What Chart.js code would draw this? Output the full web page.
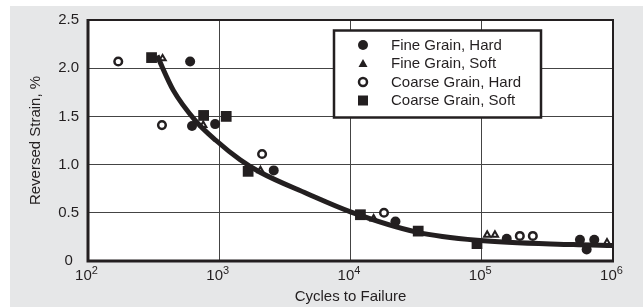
<!DOCTYPE html>
<html>
<head>
<meta charset="utf-8">
<script src="https://cdn.jsdelivr.net/npm/chart.js@4.4.1/dist/chart.umd.min.js"></script>
<style>
  body { margin: 0; background: #fff; }
  #wrap { width: 643px; height: 307px; }
</style>
</head>
<body>
<div id="wrap"><canvas id="strainChart" width="643" height="307"></canvas></div>
<script>
// values
const seriesNames = ['Fine Grain, Hard', 'Fine Grain, Soft', 'Coarse Grain, Hard', 'Coarse Grain, Soft'];

const fineHardX = [600, 620, 930, 2600, 22000, 155000, 560000, 630000, 720000];
const fineHardY = [2.07, 1.40, 1.42, 0.94, 0.41, 0.23, 0.22, 0.12, 0.22];

const fineSoftX = [370, 755, 2060, 15000, 110000, 126000, 900000];
const fineSoftY = [2.10, 1.41, 0.94, 0.44, 0.27, 0.27, 0.19];

const coarseHardX = [170, 366, 2120, 18000, 195000, 245000];
const coarseHardY = [2.07, 1.41, 1.11, 0.50, 0.26, 0.26];

const coarseSoftX = [305, 760, 1130, 1660, 11900, 32800, 92000];
const coarseSoftY = [2.11, 1.51, 1.50, 0.93, 0.48, 0.31, 0.18];

// fitted curve
const curveX = [336, 447, 655, 946, 1442, 2048, 4645, 10000, 32000, 92000, 500000, 1000000];
const curveY = [2.13, 1.77, 1.46, 1.25, 1.05, 0.92, 0.70, 0.51, 0.30, 0.215, 0.17, 0.16];

const xTickValues = [100, 1000, 10000, 100000, 1000000];
const xTickBase = '10';
const xTickPowers = ['2', '3', '4', '5', '6'];
const yTickValues = [0, 0.5, 1.0, 1.5, 2.0, 2.5];
const yTickLabels = ['0', '0.5', '1.0', '1.5', '2.0', '2.5'];

const ink = '#231f20';
const fontFam = "'Liberation Sans', Arial, sans-serif";

function pts(xs, ys) {
    return xs.map((x, i) => ({ x: x, y: ys[i] }));
}

// gray panel + white plot area + frame
const backdrop = {
    id: 'backdrop',
    beforeDraw(chart) {
        const ctx = chart.ctx;
        const a = chart.chartArea;
        ctx.save();
        ctx.fillStyle = '#fff';
        ctx.fillRect(0, 0, chart.width, chart.height);
        ctx.fillStyle = '#e6e7e8';
        ctx.fillRect(10, 6, chart.width - 10, chart.height - 6);
        ctx.fillStyle = '#fff';
        ctx.fillRect(a.left, a.top, a.right - a.left, a.bottom - a.top);
        ctx.restore();
    },
    beforeDatasetsDraw(chart) {
        const ctx = chart.ctx;
        const a = chart.chartArea;
        ctx.save();
        ctx.strokeStyle = ink;
        ctx.lineWidth = 2;
        ctx.strokeRect(a.left, a.top, a.right - a.left, a.bottom - a.top);
        ctx.lineWidth = 3;
        ctx.beginPath();
        ctx.moveTo(a.left, a.top - 1);
        ctx.lineTo(a.left, a.bottom);
        ctx.lineTo(a.right + 1, a.bottom);
        ctx.stroke();
        ctx.restore();
    }
};

// 10^n labels with a real raised exponent
const powerLabels = {
    id: 'powerLabels',
    afterDraw(chart) {
        const ctx = chart.ctx;
        const xs = chart.scales.x;
        ctx.save();
        ctx.fillStyle = ink;
        ctx.textAlign = 'left';
        ctx.textBaseline = 'alphabetic';
        xTickValues.forEach((v, i) => {
            const px = xs.getPixelForValue(v);
            ctx.font = '15px ' + fontFam;
            const w1 = ctx.measureText(xTickBase).width;
            ctx.font = '11px ' + fontFam;
            const w2 = ctx.measureText(xTickPowers[i]).width;
            const start = px - 1.5 - (w1 + w2) / 2;
            ctx.font = '15px ' + fontFam;
            ctx.fillText(xTickBase, start, 280);
            ctx.font = '11px ' + fontFam;
            ctx.fillText(xTickPowers[i], start + w1, 273.5);
        });
        ctx.restore();
    }
};

function marker(ctx, kind, x, y) {
    ctx.beginPath();
    if (kind === 'dot') {
        ctx.arc(x, y, 5, 0, Math.PI * 2);
        ctx.fill();
    } else if (kind === 'tri') {
        ctx.moveTo(x, y - 4.5);
        ctx.lineTo(x + 4.5, y + 3.5);
        ctx.lineTo(x - 4.5, y + 3.5);
        ctx.closePath();
        ctx.fill();
    } else if (kind === 'ring') {
        ctx.lineWidth = 2.5;
        ctx.arc(x, y, 4, 0, Math.PI * 2);
        ctx.stroke();
    } else {
        ctx.fillRect(x - 5, y - 5, 10, 10);
    }
}

// boxed legend inside the plot
const boxLegend = {
    id: 'boxLegend',
    afterDatasetsDraw(chart) {
        const ctx = chart.ctx;
        const kinds = ['dot', 'tri', 'ring', 'sq'];
        const rows = [45, 63.5, 82, 100.5];
        ctx.save();
        ctx.fillStyle = '#fff';
        ctx.fillRect(334, 30.5, 207, 87);
        ctx.strokeStyle = ink;
        ctx.lineWidth = 2.5;
        ctx.strokeRect(334, 30.5, 207, 87);
        ctx.font = '15px ' + fontFam;
        ctx.textBaseline = 'middle';
        ctx.textAlign = 'left';
        seriesNames.forEach((name, i) => {
            ctx.fillStyle = ink;
            ctx.strokeStyle = ink;
            marker(ctx, kinds[i], 363, rows[i]);
            ctx.fillText(name, 391, rows[i] + 0.5);
        });
        ctx.restore();
    }
};

const ctx = document.getElementById('strainChart').getContext('2d');

const chart = new Chart(ctx, {
    type: 'scatter',
    data: {
        datasets: [{
            label: 'fit',
            data: pts(curveX, curveY),
            showLine: true,
            borderColor: ink,
            borderWidth: 5,
            pointRadius: 0,
            tension: 0.4,
            cubicInterpolationMode: 'monotone',
            order: 0
        }, {
            label: seriesNames[0],
            data: pts(fineHardX, fineHardY),
            pointStyle: 'circle',
            pointRadius: 5,
            backgroundColor: ink,
            borderColor: ink,
            borderWidth: 0,
            order: 1
        }, {
            label: seriesNames[1],
            data: pts(fineSoftX, fineSoftY),
            pointStyle: 'triangle',
            pointRadius: 3.6,
            backgroundColor: '#fff',
            borderColor: ink,
            borderWidth: 2,
            order: 2
        }, {
            label: seriesNames[2],
            data: pts(coarseHardX, coarseHardY),
            pointStyle: 'circle',
            pointRadius: 3.8,
            backgroundColor: '#fff',
            borderColor: ink,
            borderWidth: 2.5,
            order: 3
        }, {
            label: seriesNames[3],
            data: pts(coarseSoftX, coarseSoftY),
            pointStyle: 'rect',
            pointRadius: 7.6,
            backgroundColor: ink,
            borderColor: ink,
            borderWidth: 0,
            order: 4
        }]
    },
    options: {
        responsive: false,
        animation: false,
        layout: { padding: { left: 0, top: 20, right: 30, bottom: 0 } },
        plugins: {
            legend: { display: false },
            tooltip: { enabled: false }
        },
        scales: {
            x: {
                type: 'logarithmic',
                min: 100,
                max: 1000000,
                afterBuildTicks: (s) => { s.ticks = xTickValues.map(v => ({ value: v })); },
                afterFit: (s) => { s.height = 46; },
                ticks: { display: false },
                grid: { color: '#444', lineWidth: 1, drawTicks: false },
                border: { display: false },
                title: {
                    display: true,
                    text: 'Cycles to Failure',
                    color: ink,
                    font: { family: fontFam, size: 15 },
                    padding: { top: 0, bottom: 1 }
                }
            },
            y: {
                min: 0,
                max: 2.5,
                afterBuildTicks: (s) => { s.ticks = yTickValues.map(v => ({ value: v })); },
                afterFit: (s) => { s.width = 88; },
                ticks: {
                    padding: 9,
                    crossAlign: 'center',
                    color: ink,
                    font: { family: fontFam, size: 15 },
                    callback: (v) => {
                        const i = yTickValues.indexOf(v);
                        return i >= 0 ? yTickLabels[i] : '';
                    }
                },
                grid: { color: '#444', lineWidth: 1, drawTicks: false },
                border: { display: false },
                title: {
                    display: true,
                    text: 'Reversed Strain, %',
                    color: ink,
                    font: { family: fontFam, size: 15 },
                    padding: { top: 27, bottom: 0 }
                }
            }
        }
    },
    plugins: [backdrop, powerLabels, boxLegend]
});
</script>
</body>
</html>
